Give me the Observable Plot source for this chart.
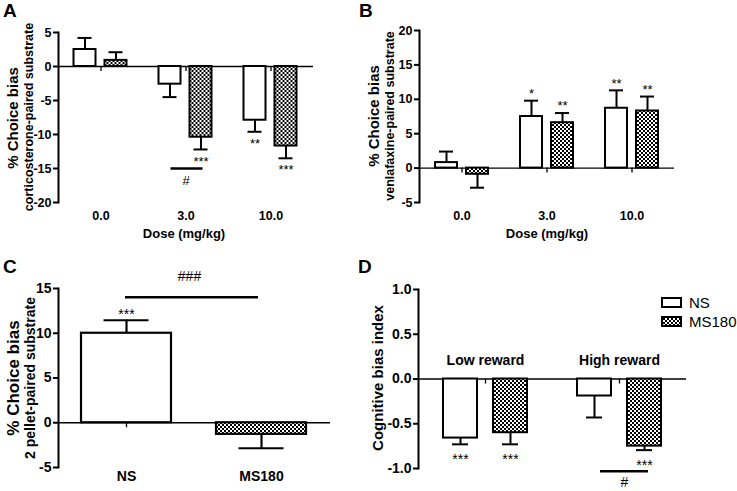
<!DOCTYPE html>
<html><head><meta charset="utf-8">
<script src="https://cdn.jsdelivr.net/npm/d3@7"></script>
<script src="https://cdn.jsdelivr.net/npm/@observablehq/plot@0.6"></script>
<style>
body{margin:0;background:#fff;}
#fig{position:relative;width:737px;height:491px;background:#fff;font-family:"Liberation Sans",Arial,sans-serif;color:#000;overflow:hidden}
.panel{position:absolute}
.lbl{position:absolute;white-space:nowrap;font-weight:bold;line-height:1}
.rot{transform:translate(-50%,-50%) rotate(-90deg)}
.ctr{transform:translate(-50%,-50%)}
.leg{position:absolute;font-size:15px;line-height:1;white-space:nowrap}
</style></head><body>
<div id="fig">
<svg width="0" height="0" style="position:absolute"><defs><pattern id="checker" width="4" height="4" patternUnits="userSpaceOnUse"><rect width="4" height="4" fill="#fff"/><rect width="2" height="2" fill="#000"/><rect x="2" y="2" width="2" height="2" fill="#000"/></pattern></defs></svg>
<div class="panel" id="pA" style="left:0;top:0"></div>
<div class="panel" id="pB" style="left:370px;top:0"></div>
<div class="panel" id="pC" style="left:0;top:250px"></div>
<div class="panel" id="pD" style="left:370px;top:250px"></div>

<div class="lbl" style="left:3px;top:1px;font-size:19px">A</div>
<div class="lbl" style="left:359px;top:1px;font-size:19px">B</div>
<div class="lbl" style="left:3px;top:257px;font-size:19px">C</div>
<div class="lbl" style="left:358px;top:257px;font-size:19px">D</div>

<div class="lbl rot" style="left:12px;top:118px;font-size:15px">% Choice bias</div>
<div class="lbl rot" style="left:29px;top:117px;font-size:12.5px">corticosterone-paired substrate</div>
<div class="lbl rot" style="left:373px;top:116px;font-size:15px">% Choice bias</div>
<div class="lbl rot" style="left:390px;top:116px;font-size:12.5px">venlafaxine-paired substrate</div>
<div class="lbl rot" style="left:13px;top:378px;font-size:17px">% Choice bias</div>
<div class="lbl rot" style="left:30px;top:378px;font-size:14px">2 pellet-paired substrate</div>
<div class="lbl rot" style="left:377px;top:378px;font-size:15px">Cognitive bias index</div>

<div class="lbl ctr" style="left:184px;top:233px;font-size:13px">Dose (mg/kg)</div>
<div class="lbl ctr" style="left:547px;top:233px;font-size:13px">Dose (mg/kg)</div>

<div id="legend"></div>
</div>
<script>
// ---------- data ----------
const groups = ["NS", "MS180"];
const doses = ["0.0", "3.0", "10.0"];

// Panel A: corticosterone-paired substrate
const nsA = [2.5, -2.6, -7.9];
const nsAErr = [1.7, 1.9, 1.7];
const nsASig = ["", "", "**"];
const msA = [0.9, -10.4, -11.7];
const msAErr = [1.2, 1.8, 1.8];
const msASig = ["", "***", "***"];
const compA = [{cat: "3.0", from: "NS", to: "MS180", sym: "#"}];

// Panel B: venlafaxine-paired substrate
const nsB = [0.8, 7.5, 8.7];
const nsBErr = [1.6, 2.3, 2.6];
const nsBSig = ["", "*", "**"];
const msB = [-0.9, 6.6, 8.3];
const msBErr = [1.95, 1.4, 2.1];
const msBSig = ["", "**", "**"];

// Panel C: 2 pellet-paired substrate
const cGroups = ["NS", "MS180"];
const cVals = [10.0, -1.3];
const cErr = [1.45, 1.55];
const cSig = ["***", ""];
const compC = [{from: "NS", to: "MS180", sym: "###"}];

// Panel D: cognitive bias index
const rewards = ["Low reward", "High reward"];
const nsD = [-0.66, -0.19];
const nsDErr = [0.07, 0.24];
const nsDSig = ["***", ""];
const msD = [-0.60, -0.75];
const msDErr = [0.13, 0.045];
const msDSig = ["***", "***"];
const compD = [{cat: "High reward", from: "NS", to: "MS180", sym: "#"}];

// tick labels
const ticksA = [-20, -15, -10, -5, 0, 5];
const ticksB = [-5, 0, 5, 10, 15, 20];
const ticksC = [-5, 0, 5, 10, 15];
const ticksD = [-1, -0.5, 0, 0.5, 1];

// ---------- helpers ----------
function rowsOf(cats, ns, nsErr, nsSig, ms, msErr, msSig) {
  return cats.flatMap((c, i) => [
    {cat: c, group: "NS", value: ns[i], err: nsErr[i], sig: nsSig[i]},
    {cat: c, group: "MS180", value: ms[i], err: msErr[i], sig: msSig[i]}
  ]);
}
const end = d => d.value + Math.sign(d.value) * d.err;
const font = '"Liberation Sans", Arial, sans-serif';
const color = {domain: groups, range: ["white", "url(#checker)"]};
const baseStyle = {fontFamily: font, fontWeight: "bold", color: "black", background: "white", overflow: "visible"};

function grouped(o) {
  const {rows, cats, comps} = o;
  const compY = c => {
    const ends = rows.filter(r => r.cat === c.cat).map(end);
    return o.compAbove ? Math.max(...ends) : Math.min(...ends);
  };
  const marks = [
    Plot.ruleY([0], {strokeWidth: 1.3}),
    Plot.ruleX(cats, {fx: d => d, x: null, y1: 0, y2: 0, insetBottom: -5, strokeWidth: 1.3}),
    Plot.ruleX(rows, {fx: "cat", x: "group", y1: "value", y2: end, strokeWidth: 2}),
    Plot.tickY(rows, {fx: "cat", x: "group", y: end, insetLeft: o.capInset, insetRight: o.capInset, strokeWidth: 2}),
    Plot.barY(rows, {fx: "cat", x: "group", y: "value", fill: "group", stroke: "black", strokeWidth: 2}),
    Plot.text(rows.filter(d => d.sig), {fx: "cat", x: "group", y: end, text: "sig", dy: o.starDy, fontSize: o.starSize, fontWeight: "normal"}),
    Plot.frame({anchor: "left", facetAnchor: "left", strokeWidth: 2}),
    Plot.axisY({ticks: o.ticks, tickFormat: o.tickFormat, tickSize: 5, tickPadding: 2, strokeWidth: 2, fontSize: o.fontSize, label: null})
  ];
  if (comps) {
    marks.push(Plot.ruleY(comps, {fx: "cat", x1: "from", x2: "to", y: compY, dy: o.compDy, insetLeft: o.compInsetL, insetRight: o.compInsetR, strokeWidth: 2.5}));
    marks.push(Plot.text(comps, {fx: "cat", y: compY, text: "sym", dy: o.compTextDy, dx: o.compTextDx || 0, fontSize: o.starSize, fontWeight: "normal"}));
  }
  if (o.catOnZero) {
    marks.push(Plot.text(cats, {fx: d => d, y: 0, text: d => d, dy: o.catDy, fontSize: o.fontSize}));
  } else {
    marks.push(Plot.axisFx({anchor: "bottom", tickSize: 0, tickPadding: o.catPad, fontSize: o.fontSize, label: null}));
  }
  return Plot.plot({
    width: o.width, height: o.height,
    marginLeft: o.ml, marginRight: o.mr, marginTop: o.mt, marginBottom: o.mb,
    style: {...baseStyle, fontSize: o.fontSize + "px"},
    fx: {domain: cats, padding: 0, axis: null},
    x: {domain: groups, paddingInner: o.padIn, paddingOuter: o.padOut, axis: null},
    y: {domain: o.yDomain, nice: false},
    color,
    marks
  });
}

// ---------- Panel A ----------
document.getElementById("pA").append(grouped({
  rows: rowsOf(doses, nsA, nsAErr, nsASig, msA, msAErr, msASig), cats: doses, comps: compA,
  width: 370, height: 250, ml: 57.5, mr: 57.5, mt: 32, mb: 48,
  yDomain: [-20, 5], ticks: ticksA, tickFormat: d => String(d), fontSize: 12.5,
  padIn: 0.29, padOut: 0.49, capInset: 4, starDy: 12, starSize: 13,
  compDy: 19, compInsetL: 12, compInsetR: 9, compTextDy: 31, catPad: 9
}));

// ---------- Panel B ----------
document.getElementById("pB").append(grouped({
  rows: rowsOf(doses, nsB, nsBErr, nsBSig, msB, msBErr, msBSig), cats: doses,
  width: 367, height: 250, ml: 48, mr: 62.5, mt: 30, mb: 48,
  yDomain: [-5, 20], ticks: ticksB, tickFormat: d => String(d), fontSize: 12.5,
  padIn: 0.29, padOut: 0.49, capInset: 4, starDy: -7, starSize: 13, catPad: 9
}));

// ---------- Panel C ----------
(function () {
  const rows = cGroups.map((g, i) => ({group: g, value: cVals[i], err: cErr[i], sig: cSig[i]}));
  const compY = () => Math.max(...rows.map(end));
  const chart = Plot.plot({
    width: 370, height: 241, marginLeft: 58, marginRight: 40, marginTop: 38, marginBottom: 24,
    style: {...baseStyle, fontSize: "14px"},
    x: {domain: cGroups, paddingInner: 0.33, paddingOuter: 0.17},
    y: {domain: [-5, 15], nice: false},
    color,
    marks: [
      Plot.ruleY([0], {strokeWidth: 1.3}),
      Plot.ruleX(rows, {x: "group", y1: 0, y2: 0, insetBottom: -5, strokeWidth: 1.3}),
      Plot.ruleX(rows, {x: "group", y1: "value", y2: end, strokeWidth: 2.2}),
      Plot.tickY(rows, {x: "group", y: end, insetLeft: 22.5, insetRight: 22.5, strokeWidth: 2.2}),
      Plot.barY(rows, {x: "group", y: "value", fill: "group", stroke: "black", strokeWidth: 2.2}),
      Plot.text(rows.filter(d => d.sig), {x: "group", y: end, text: "sig", dy: -6, fontSize: 14, fontWeight: "normal"}),
      Plot.ruleY(compC, {x1: "from", x2: "to", y: compY, dy: -23, insetLeft: 44, insetRight: 48, strokeWidth: 2.5}),
      Plot.text(compC, {y: compY, text: "sym", dy: -44, dx: -5, fontSize: 14, fontWeight: "normal"}),
      Plot.frame({anchor: "left", strokeWidth: 2}),
      Plot.axisY({ticks: ticksC, tickFormat: d => String(d), tickSize: 5, tickPadding: 2, strokeWidth: 2, fontSize: 14, label: null}),
      Plot.axisX({anchor: "bottom", tickSize: 0, tickPadding: 4, fontSize: 14, label: null})
    ]
  });
  document.getElementById("pC").append(chart);
})();

// ---------- Panel D ----------
document.getElementById("pD").append(grouped({
  rows: rowsOf(rewards, nsD, nsDErr, nsDSig, msD, msDErr, msDSig), cats: rewards, comps: compD,
  width: 367, height: 241, ml: 48, mr: 51, mt: 39, mb: 23,
  yDomain: [-1, 1], ticks: ticksD, tickFormat: d => d.toFixed(1), fontSize: 14,
  padIn: 0.32, padOut: 0.5, capInset: 9, starDy: 15, starSize: 14,
  compDy: 21, compInsetL: 23, compInsetR: 13, compTextDy: 32, compTextDx: 5,
  catOnZero: true, catDy: -18
}));

// ---------- Legend ----------
const legend = document.getElementById("legend");
groups.forEach((g, i) => {
  const top = 297 + i * 19;
  const fill = g === "NS" ? "white" : "url(#checker)";
  legend.insertAdjacentHTML("beforeend",
    `<svg style="position:absolute;left:661px;top:${top}px" width="21" height="11"><rect x="1" y="1" width="19" height="9" fill="${fill}" stroke="black" stroke-width="2"/></svg>` +
    `<div class="leg" style="left:689px;top:${top - 2}px">${g}</div>`);
});
</script>
</body></html>
